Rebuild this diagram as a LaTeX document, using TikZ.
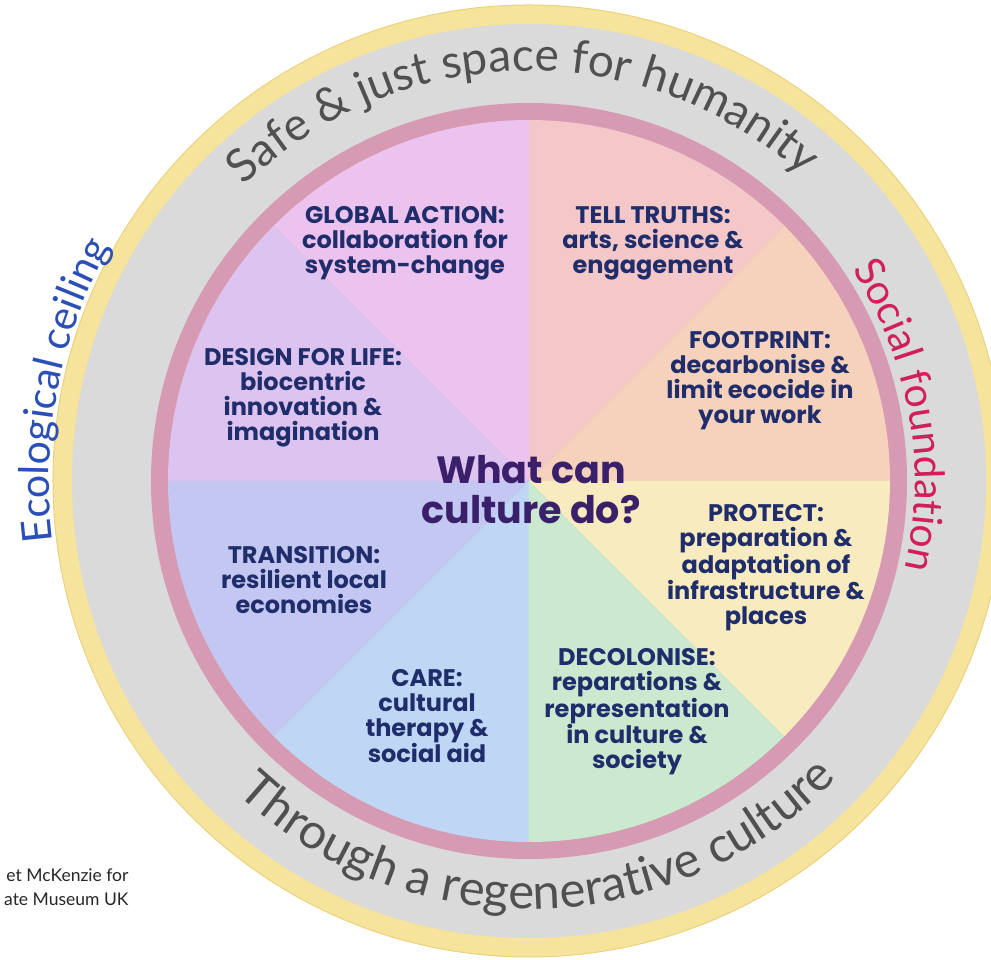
\documentclass[tikz,border=0pt]{standalone}
\usepackage{fontspec}
\usepackage{xcolor}
\usepackage{tikz}
\setmainfont{Lato}
\newfontfamily\labelfont{Poppins}
\newfontfamily\ringfont{Lato}
\usetikzlibrary{decorations.text}

\definecolor{ringyellow}{HTML}{F6E39C}
\definecolor{ringyellowedge}{HTML}{EAD27E}
\definecolor{ringgrey}{HTML}{DADADA}
\definecolor{ringpink}{HTML}{D69BB2}
\definecolor{ringtext}{HTML}{505050}
\definecolor{ceilingblue}{HTML}{2B4FB8}
\definecolor{socialred}{HTML}{D11F5C}
\definecolor{labelnavy}{HTML}{1F2D6B}
\definecolor{titlepurple}{HTML}{3A1F6A}
\definecolor{sTruths}{HTML}{F4C7C8}
\definecolor{sFootprint}{HTML}{F6D2BC}
\definecolor{sProtect}{HTML}{F8EBC0}
\definecolor{sDecolonise}{HTML}{CAE9CF}
\definecolor{sCare}{HTML}{BFD7F5}
\definecolor{sTransition}{HTML}{C3C7F1}
\definecolor{sDesign}{HTML}{DCC3F0}
\definecolor{sGlobal}{HTML}{EBC3EE}

\tikzset{
  action/.style={align=center, text=labelnavy, font=\labelfont\bfseries\fontsize{24}{25}\selectfont},
  credit/.style={align=right, text=black!85, font=\fontsize{17.5}{24}\selectfont}
}

\begin{document}
\begin{tikzpicture}[x=1pt,y=1pt]
\useasboundingbox (-529,-479) rectangle (462,481);
\clip (-529,-479) rectangle (462,481);
\coordinate (C) at (0,0);

\fill[ringyellow, draw=ringyellowedge, line width=1pt] (C) circle[radius=476];
\fill[ringgrey] (C) circle[radius=457];
\fill[ringpink] (C) circle[radius=378];

\foreach \a/\col in {0/sFootprint, 45/sTruths, 90/sGlobal, 135/sDesign,
                     180/sTransition, 225/sCare, 270/sDecolonise, 315/sProtect}
  \fill[\col] (C) -- (\a:361) arc[start angle=\a, end angle=\a+45, radius=361] -- cycle;

\path[decorate, decoration={text along path, text align=center,
  text={|\ringfont\fontsize{46}{50}\selectfont\color{ringtext}|Safe {\&} just space for humanity}}]
  (151:410) arc[start angle=151, end angle=31, radius=410];
\path[decorate, decoration={text along path, text align=center,
  text={|\ringfont\fontsize{49}{54}\selectfont\color{ringtext}|Through a regenerative culture}}]
  (-149:428) arc[start angle=-149, end angle=-28, radius=428];
\path[decorate, decoration={text along path, text align=center,
  text={|\fontsize{41}{46}\selectfont\color{ceilingblue}|Ecological ceiling}}]
  (202:480) arc[start angle=202, end angle=136, radius=480];
\path[decorate, decoration={text along path, text align=center,
  text={|\fontsize{41}{46}\selectfont\color{socialred}|Social foundation}}]
  (42:386) arc[start angle=42, end angle=-22, radius=386];

\node[action] (global) at (-124,238) {GLOBAL ACTION:\\collaboration for\\system-change};
\node[action] (truths) at (124,238) {TELL TRUTHS:\\arts, science \&\\engagement};
\node[action] (design) at (-226,83) {DESIGN FOR LIFE:\\biocentric\\innovation \&\\imagination};
\node[action] (footprint) at (231,100) {FOOTPRINT:\\decarbonise \&\\limit ecocide in\\your work};
\node[action] (transition) at (-225,-99) {TRANSITION:\\resilient local\\economies};
\node[action] (protect) at (237,-87) {PROTECT:\\preparation \&\\adaptation of\\infrastructure \&\\places};
\node[action] (care) at (-102,-235) {CARE:\\cultural\\therapy \&\\social aid};
\node[action] (decolonise) at (108,-231) {DECOLONISE:\\reparations \&\\representation\\in culture \&\\society};
\node[action, text=titlepurple, font=\labelfont\bfseries\fontsize{38}{40}\selectfont] (centre) at (2,-9) {What can\\culture do?};

\node[credit, anchor=east] (credit) at (-397,-406) {et McKenzie for\\ate Museum UK};
\end{tikzpicture}
\end{document}
